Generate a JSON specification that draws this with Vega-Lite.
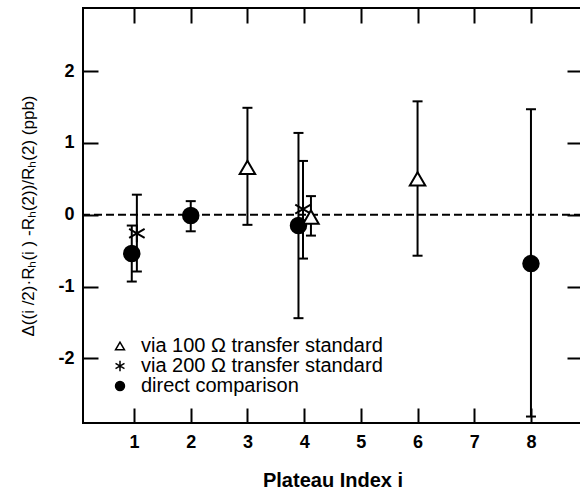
{
  "$schema": "https://vega.github.io/schema/vega-lite/v6.json",
  "width": 499,
  "height": 415,
  "autosize": {"type": "none"},
  "padding": {"left": 83, "top": 8, "right": 0, "bottom": 67},
  "background": "white",
  "config": {
    "view": {"stroke": "black", "strokeWidth": 2},
    "font": "Liberation Sans",
    "axis": {
      "domain": false, "grid": false,
      "tickColor": "black", "tickWidth": 2, "tickSize": -15,
      "labelColor": "black", "titleColor": "black",
      "labelFont": "Liberation Sans", "labelFontWeight": "bold", "labelFontSize": 18,
      "titleFont": "Liberation Sans"
    },
    "legend": {
      "orient": "bottom-left", "offset": 27, "padding": 0,
      "labelFont": "Liberation Sans", "labelFontSize": 20, "labelColor": "black", "labelLimit": 400,
      "symbolSize": 80, "symbolStrokeColor": "black", "symbolStrokeWidth": 1.5,
      "labelOffset": 11, "rowPadding": -3
    }
  },
  "datasets": {
    "pts": [
      {"i": 0.96, "v": -0.54, "lo": -0.93, "hi": -0.15, "series": "direct comparison"},
      {"i": 1.05, "v": -0.26, "lo": -0.79, "hi": 0.28, "series": "via 200 Ω transfer standard"},
      {"i": 2.0, "v": -0.01, "lo": -0.23, "hi": 0.19, "series": "direct comparison"},
      {"i": 3.0, "v": 0.66, "lo": -0.14, "hi": 1.49, "series": "via 100 Ω transfer standard"},
      {"i": 3.9, "v": -0.15, "lo": -1.44, "hi": 1.14, "series": "direct comparison"},
      {"i": 3.98, "v": 0.08, "lo": -0.61, "hi": 0.75, "series": "via 200 Ω transfer standard"},
      {"i": 4.12, "v": -0.03, "lo": -0.29, "hi": 0.26, "series": "via 100 Ω transfer standard"},
      {"i": 6.0, "v": 0.5, "lo": -0.57, "hi": 1.58, "series": "via 100 Ω transfer standard"},
      {"i": 8.0, "v": -0.68, "lo": -2.81, "hi": 1.47, "series": "direct comparison"}
    ]
  },
  "layer": [
    {
      "data": {"values": [{"z": 0}]},
      "mark": {"type": "rule", "strokeDash": [8, 4], "strokeWidth": 2, "color": "black"},
      "encoding": {
        "y": {"field": "z", "type": "quantitative", "scale": {"domain": [-2.9, 2.88], "nice": false, "zero": false}, "axis": null}
      }
    },
    {
      "data": {"name": "pts"},
      "mark": {"type": "rule", "strokeWidth": 2, "color": "black"},
      "encoding": {
        "x": {"field": "i", "type": "quantitative", "scale": {"domain": [0.1, 8.9], "nice": false, "zero": false},
              "axis": {"orient": "top", "values": [1, 2, 3, 4, 5, 6, 7, 8], "labels": false, "title": null}},
        "y": {"field": "lo", "type": "quantitative", "scale": {"domain": [-2.9, 2.88], "nice": false, "zero": false},
              "axis": {"orient": "right", "values": [-2, -1, 0, 1, 2], "labels": false, "title": null}},
        "y2": {"field": "hi"}
      }
    },
    {
      "data": {"name": "pts"},
      "mark": {"type": "tick", "orient": "horizontal", "size": 10, "thickness": 2, "color": "black", "opacity": 1},
      "encoding": {
        "x": {"field": "i", "type": "quantitative", "scale": {"domain": [0.1, 8.9], "nice": false, "zero": false}, "axis": null},
        "y": {"field": "lo", "type": "quantitative", "scale": {"domain": [-2.9, 2.88], "nice": false, "zero": false}, "axis": null}
      }
    },
    {
      "data": {"name": "pts"},
      "mark": {"type": "tick", "orient": "horizontal", "size": 10, "thickness": 2, "color": "black", "opacity": 1},
      "encoding": {
        "x": {"field": "i", "type": "quantitative", "scale": {"domain": [0.1, 8.9], "nice": false, "zero": false}, "axis": null},
        "y": {"field": "hi", "type": "quantitative", "scale": {"domain": [-2.9, 2.88], "nice": false, "zero": false}, "axis": null}
      }
    },
    {
      "data": {"name": "pts"},
      "mark": {"type": "point", "filled": true, "strokeWidth": 2, "size": 240, "opacity": 1},
      "encoding": {
        "x": {"field": "i", "type": "quantitative", "scale": {"domain": [0.1, 8.9], "nice": false, "zero": false},
              "axis": {"orient": "bottom", "values": [1, 2, 3, 4, 5, 6, 7, 8], "labelExpr": "'' + datum.value",
                       "title": "Plateau Index i", "titleFontSize": 20, "titleFontWeight": "bold",
                       "labelPadding": 25, "titlePadding": 19}},
        "y": {"field": "v", "type": "quantitative", "scale": {"domain": [-2.9, 2.88], "nice": false, "zero": false},
              "axis": {"orient": "left", "values": [-2, -1, 0, 1, 2], "labelExpr": "'' + datum.value",
                       "title": "Δ((i /2)·Rₕ(i ) -Rₕ(2))/Rₕ(2)  (ppb)", "titleFontSize": 17, "titleFontWeight": "normal",
                       "labelPadding": 24, "titlePadding": 20}},
        "shape": {"field": "series", "type": "nominal",
                  "scale": {"domain": ["via 100 Ω transfer standard", "via 200 Ω transfer standard", "direct comparison"],
                            "range": ["triangle-up", "M0,-1.15L0,1.15M-1,-0.58L1,0.58M-1,0.58L1,-0.58", "circle"]},
                  "legend": {"title": null}},
        "fill": {"field": "series", "type": "nominal",
                 "scale": {"domain": ["via 100 Ω transfer standard", "via 200 Ω transfer standard", "direct comparison"],
                           "range": ["white", "transparent", "black"]},
                 "legend": {"title": null}},
        "stroke": {"field": "series", "type": "nominal",
                   "scale": {"domain": ["via 100 Ω transfer standard", "via 200 Ω transfer standard", "direct comparison"],
                             "range": ["black", "black", "black"]},
                   "legend": {"title": null}}
      }
    }
  ],
  "resolve": {"axis": {"x": "independent", "y": "independent"}}
}
